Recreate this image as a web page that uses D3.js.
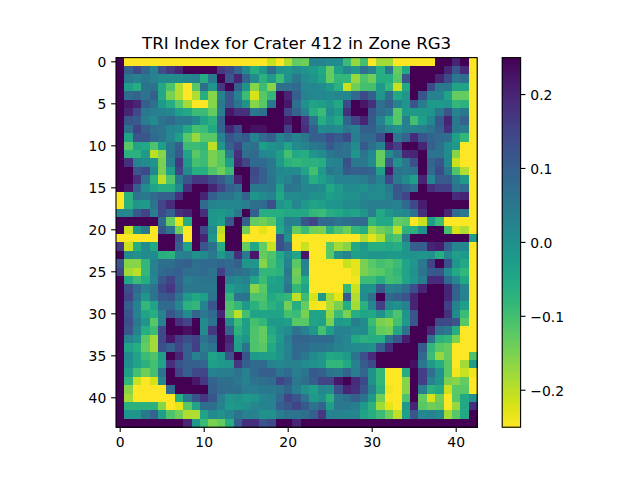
<!doctype html>
<html>
<head>
<meta charset="utf-8">
<script type='text/javascript' src='https://d3js.org/d3.v7.min.js'></script>
<style>
body { margin: 0; background: #fff; }
text { font-family: "DejaVu Sans"; fill: #000; }
</style>
</head>
<body>
<script>
var width = 640, height = 480;
var titleText = 'TRI Index for Crater 412 in Zone RG3';
var xTicks = [0, 10, 20, 30, 40];
var yTicks = [0, 5, 10, 15, 20, 25, 30, 35, 40];
var barTicks = [-0.2, -0.1, 0, 0.1, 0.2];
// TRI values, in hundredths, clipped to +-25
var triRows = [
[25,-25,-25,-25,-25,-25,-25,-25,-25,-25,-25,-25,-25,-25,-25,-25,-25,-25,-21,-25,-19,-13,-14,3,3,1,1,-9,-17,-10,-25,-18,-18,-25,-25,-25,-25,-25,25,25,20,25,-25],
[25,10,14,9,3,13,17,20,25,25,25,25,17,14,9,2,-6,-1,8,0,-1,1,-1,-2,-5,-13,-3,2,-1,7,3,-6,5,-13,-5,25,25,25,25,20,12,19,-25],
[25,5,3,5,3,1,1,1,2,3,-6,5,25,12,20,9,1,-7,-2,-9,0,5,1,-1,-4,-13,-8,-8,-17,-11,-14,-6,-6,-12,12,25,25,25,20,14,5,7,-25],
[25,-3,-6,6,6,-5,-11,-19,-25,-12,7,-1,17,25,10,0,-16,-9,-16,7,7,8,2,2,1,-2,-7,-21,-14,-10,-10,-2,-8,-21,-5,25,25,14,5,5,-4,-4,-25],
[25,8,9,6,10,-5,-15,-19,-25,-19,-6,-16,3,12,3,-9,-22,-12,-8,25,20,10,3,2,2,1,2,2,8,14,10,-1,7,-5,-1,25,12,3,3,-4,-13,-13,-25],
[25,22,20,10,7,-2,-6,-12,-18,-25,-25,-16,5,12,6,0,-16,-12,5,25,22,7,0,-4,-3,-1,-5,14,25,22,18,7,10,3,-1,12,4,-2,-2,-1,-8,-7,-25],
[25,20,14,5,4,3,2,-3,-5,-9,-9,-13,4,22,18,18,5,7,25,25,15,9,3,-6,-9,1,-2,18,25,25,12,7,5,-12,-2,-2,-2,-1,5,12,3,5,-25],
[25,12,11,4,1,6,8,5,5,2,-4,-7,10,25,25,25,25,25,25,25,22,25,17,6,-6,-2,-5,9,15,20,11,3,-6,-12,4,-10,-3,2,11,20,5,9,-25],
[25,7,15,10,7,6,2,1,-5,-10,-9,-5,9,20,14,25,23,23,25,25,16,25,18,10,1,2,1,5,3,10,10,6,2,0,3,3,4,6,10,18,5,4,-25],
[25,-4,12,12,8,6,2,-3,-12,-17,-12,-12,3,12,9,11,3,8,10,3,6,3,5,10,10,13,11,14,4,8,8,13,25,5,9,19,12,9,8,7,-3,-8,-25],
[25,-12,-4,-5,-11,-3,5,10,-9,-9,-8,-20,-1,10,15,6,7,-3,0,1,-4,1,3,5,6,11,8,6,1,11,7,3,20,16,25,25,20,10,7,1,-2,-25,-25],
[25,-7,-7,-2,-20,-16,5,11,-4,-12,-9,-15,-12,4,18,7,8,2,1,-3,-10,-5,-6,-1,1,5,7,6,-1,6,2,-13,1,7,19,20,25,6,6,1,-16,-25,-25],
[25,18,3,1,-1,-15,3,17,-2,-10,-9,-15,-12,-3,20,15,8,8,5,-2,-7,-8,-7,-7,-6,2,3,13,5,5,1,-13,12,0,5,13,25,9,12,1,-21,-25,-25],
[25,25,12,14,2,-15,-3,15,1,-6,-6,-11,-14,-9,25,25,14,10,5,2,1,1,-4,-10,-2,5,4,11,10,10,9,-3,22,6,5,6,25,8,14,5,-11,-19,-25],
[25,25,18,7,-7,-20,-11,5,12,17,17,14,11,6,20,25,13,10,6,1,3,6,1,-6,-3,0,3,3,3,4,7,3,14,5,1,-3,20,2,11,11,4,-2,-25],
[25,22,10,1,-4,-6,-6,1,18,25,25,20,15,10,8,25,5,5,6,-3,6,5,2,2,1,-5,-2,1,1,0,2,1,5,12,9,7,25,18,16,16,6,8,-25],
[-25,-7,6,5,8,10,10,18,25,25,20,10,6,6,3,9,-1,1,3,-5,1,1,2,0,0,-3,-2,0,0,2,1,1,4,11,15,25,25,25,25,25,19,20,-25],
[-25,-7,-1,-2,6,15,19,25,25,25,8,3,2,2,2,4,7,8,13,-1,-3,2,-2,-4,-3,-1,-1,1,1,3,4,4,4,3,8,14,21,25,25,25,25,25,-25],
[2,2,11,15,4,14,10,18,20,25,18,-1,-2,0,5,25,10,-6,-6,-6,-5,-5,-5,-8,-9,-6,-5,-3,-4,-1,4,-5,-1,1,2,6,18,25,25,20,8,5,-25],
[25,25,25,25,25,8,-13,-23,-6,25,25,-1,-3,11,25,10,-13,-14,-12,-4,4,3,12,15,8,8,6,7,8,8,-8,-5,-5,-13,-12,-25,-21,-3,-9,-25,-25,-25,-25],
[25,-21,-1,5,-25,12,6,-14,-25,25,14,1,-20,25,25,-14,-25,-23,-25,-5,2,-13,-9,-14,-15,-7,-11,-14,-8,-6,-17,-14,-12,-20,-7,-7,0,25,25,-10,-22,-19,-25],
[-25,-25,-25,-25,-25,25,25,13,-25,25,20,-1,-22,25,25,-25,-25,-25,-25,13,0,-25,-25,-25,-25,-25,-25,-25,-25,-19,-23,-19,-9,-11,5,25,25,25,25,25,25,25,-2],
[17,-21,-6,1,-5,25,25,10,-4,25,12,7,-6,25,25,-13,-5,-13,-21,13,9,-25,-21,-25,-25,-12,-18,-16,-5,-2,-6,-6,-5,-6,-1,10,10,20,21,10,2,2,-25],
[25,1,0,1,1,-6,-7,3,4,0,1,5,-2,4,18,5,22,-13,-11,-5,1,-4,22,-25,-25,-12,0,3,-3,-2,-1,-1,-2,-2,-1,0,-1,0,-6,2,-3,-2,-25],
[12,-16,-16,-8,3,7,7,9,10,7,8,8,9,8,10,-1,-1,-16,-10,-6,3,-12,3,-25,-25,-25,-25,-21,-23,-15,-12,-10,-11,-9,-4,-1,5,15,25,13,-1,-5,-25],
[15,-18,-20,-8,3,8,9,10,7,7,8,6,16,8,7,6,3,-8,-8,-7,5,-14,2,-25,-25,-25,-25,-25,-23,-15,-13,-12,-10,-8,-4,0,6,11,12,1,-5,-8,-25],
[25,-5,-9,-6,2,11,15,9,4,5,6,6,25,3,1,3,-4,-9,-4,-3,4,-13,-6,-25,-25,-25,-25,-25,-24,-9,-9,-6,-10,-9,-4,-1,4,19,19,8,2,-5,-25],
[25,13,8,3,6,14,17,10,5,5,5,5,25,-3,0,1,-16,-12,-3,-3,6,-8,-4,-25,-25,-25,-25,-8,-21,0,0,11,3,4,7,13,20,25,25,20,10,3,-25],
[25,15,6,-1,6,11,12,6,-2,-5,-3,6,25,-8,6,6,-11,-11,-5,-7,-8,-20,-9,-22,-2,-18,-23,11,-19,1,7,25,8,10,12,20,25,25,25,20,9,3,-25],
[25,10,3,-8,-4,8,8,2,-7,-8,3,12,25,-11,-8,-2,-7,-10,-7,-5,-14,-6,-13,-24,-25,-19,-15,-6,-18,-7,2,16,1,0,3,20,25,25,25,16,3,-3,-25],
[25,12,3,-4,-6,3,12,8,1,9,5,8,20,-12,-20,-10,-4,-4,-4,-4,-10,-9,-15,-4,-4,-17,-9,-15,-6,-4,-5,0,-7,-11,-1,12,25,25,25,18,1,-9,-25],
[25,13,5,-1,-12,3,25,18,15,25,1,6,25,1,-9,-3,-10,-8,-2,-2,-3,-12,-12,-4,-3,-15,-2,-3,4,1,-9,-15,-16,-10,-2,12,25,25,14,14,12,-12,-25],
[25,12,3,-6,-9,14,25,25,23,25,1,17,25,9,-7,-3,-11,-13,-5,-1,1,6,3,-1,-10,-3,3,3,1,1,-7,-13,-14,-5,6,25,25,20,7,5,-6,-25,-25],
[25,3,0,-12,-18,14,22,16,13,15,6,9,25,20,-4,-1,-11,-13,-7,-2,4,9,9,8,8,8,4,2,-5,-7,-6,-6,6,12,21,25,25,7,-7,-8,-15,-25,-25],
[25,-4,-6,-13,-18,13,10,15,10,16,4,6,25,18,-3,6,-11,-12,-5,0,3,8,8,6,6,5,3,2,1,1,0,11,19,25,25,25,11,-8,-12,-13,-25,-25,-25],
[25,1,-4,-9,-11,-3,25,20,10,3,6,-4,-2,12,25,12,-2,-3,-3,-1,3,8,5,1,-1,-5,-4,-2,6,13,19,25,25,25,25,25,8,-9,-17,-13,-25,-25,-11],
[25,0,-4,-7,-10,-4,18,12,10,10,9,-3,-2,-1,17,10,8,8,3,2,3,3,1,0,-1,-8,-8,-5,3,11,14,25,25,25,25,23,5,-2,-6,-12,-25,-18,-3],
[25,-3,-10,-14,-10,6,25,15,10,14,15,3,4,4,6,3,8,10,10,6,8,4,6,11,10,6,5,9,4,9,0,-8,-25,-25,-6,25,16,7,0,-12,-24,-21,-24],
[25,-8,-21,-25,-22,2,25,25,25,22,17,9,7,7,5,3,6,7,8,15,12,5,7,10,15,15,22,25,19,14,0,-8,-25,-25,-16,25,16,3,-1,-15,-16,-13,-25],
[25,-16,-25,-25,-25,-25,8,25,25,25,25,10,8,7,7,4,4,5,5,6,9,4,0,-3,2,1,13,20,18,12,3,-7,-24,-25,-16,25,4,-7,-5,-21,-12,-12,-25],
[25,-18,-25,-25,-25,-25,-25,-6,5,12,17,12,4,-1,0,-2,-1,2,3,8,15,12,6,-2,0,-7,5,7,10,6,-2,-14,-25,-25,-11,25,-13,-22,-14,-25,-12,-5,0],
[25,-7,-7,-7,-7,-16,-25,-23,-12,-4,7,7,3,-2,-1,0,2,3,3,10,12,15,11,6,9,-3,5,5,4,-2,-7,-18,-23,-25,-2,20,-12,-14,-13,-25,-17,-5,18],
[25,-1,-1,5,9,-3,-11,-14,-19,-19,-4,1,0,2,6,3,3,0,0,4,6,6,7,10,17,3,3,2,2,-4,-6,-9,-14,-20,-3,12,2,3,1,-18,-12,-5,25],
[25,25,25,25,25,25,25,25,20,-1,-9,-15,-13,-6,10,18,18,12,14,25,25,20,25,25,25,25,25,25,25,25,25,25,25,25,25,25,25,25,25,25,25,25,25]
];

var imgLeft = 116, imgRight = 477.2, imgTop = 57.6, imgBottom = 427.2;
var barLeft = 502.2, barRight = 520.6;
var tickLen = 4.86;

var svg = d3.select('body').append('svg').attr('width', width).attr('height', height).style('display', 'block');

var x = d3.scaleLinear().domain([-0.5, 42.5]).range([imgLeft, imgRight]);
var y = d3.scaleLinear().domain([-0.5, 43.5]).range([imgTop, imgBottom]);
var color = d3.scaleSequential(function(t) { return d3.interpolateViridis(1 - t); }).domain([-0.25, 0.25]);
var barY = d3.scaleLinear().domain([-0.25, 0.25]).range([imgBottom, imgTop]);

// cells
var cells = [];
triRows.forEach(function(row, r) {
  row.forEach(function(v, c) { cells.push({r: r, c: c, v: v / 100}); });
});
svg.append('g').attr('shape-rendering', 'crispEdges')
  .selectAll('rect').data(cells).join('rect')
  .attr('x', function(d) { return x(d.c - 0.5); })
  .attr('y', function(d) { return y(d.r - 0.5); })
  .attr('width', x(1) - x(0) + 0.5)
  .attr('height', y(1) - y(0) + 0.5)
  .attr('fill', function(d) { return color(d.v); });

svg.append('rect').attr('x', imgLeft).attr('y', imgTop)
  .attr('width', imgRight - imgLeft).attr('height', imgBottom - imgTop)
  .attr('fill', 'none').attr('stroke', '#000').attr('stroke-width', 1.1);

// axes
var xAxis = d3.axisBottom(x).tickValues(xTicks).tickSize(tickLen).tickPadding(4.86).tickSizeOuter(0).offset(0);
var yAxis = d3.axisLeft(y).tickValues(yTicks).tickSize(tickLen).tickPadding(4.86).tickSizeOuter(0).offset(0);
var gx = svg.append('g').attr('transform', 'translate(0,' + imgBottom + ')').call(xAxis);
var gy = svg.append('g').attr('transform', 'translate(' + imgLeft + ',0)').call(yAxis);

// colorbar
var barSteps = d3.range(256);
var barStep = (imgBottom - imgTop) / 256;
svg.append('g').attr('shape-rendering', 'crispEdges')
  .selectAll('rect').data(barSteps).join('rect')
  .attr('x', barLeft)
  .attr('y', function(d) { return imgBottom - (d + 1) * barStep; })
  .attr('width', barRight - barLeft)
  .attr('height', barStep + 0.5)
  .attr('fill', function(d) { return color(-0.25 + 0.5 * (d + 0.5) / 256); });
svg.append('rect').attr('x', barLeft).attr('y', imgTop)
  .attr('width', barRight - barLeft).attr('height', imgBottom - imgTop)
  .attr('fill', 'none').attr('stroke', '#000').attr('stroke-width', 1.1);
var barAxis = d3.axisRight(barY).tickValues(barTicks).tickSize(tickLen).tickPadding(4.86).tickSizeOuter(0).offset(0)
  .tickFormat(d3.format('.1f'));
var gb = svg.append('g').attr('transform', 'translate(' + barRight + ',0)').call(barAxis);

[gx, gy, gb].forEach(function(g) {
  g.select('.domain').remove();
  g.selectAll('line').attr('stroke', '#000').attr('stroke-width', 1.1);
  g.selectAll('text').attr('font-family', '"DejaVu Sans"').attr('font-size', 13.9).attr('fill', '#000');
});
// nudge the vertical tick labels down a little
gy.selectAll('text').attr('dy', '0.38em');
gb.selectAll('text').attr('dy', '0.38em');

svg.append('text').attr('x', (imgLeft + imgRight) / 2).attr('y', 49)
  .attr('text-anchor', 'middle').attr('font-size', 16.67).text(titleText);
</script>
</body>
</html>
